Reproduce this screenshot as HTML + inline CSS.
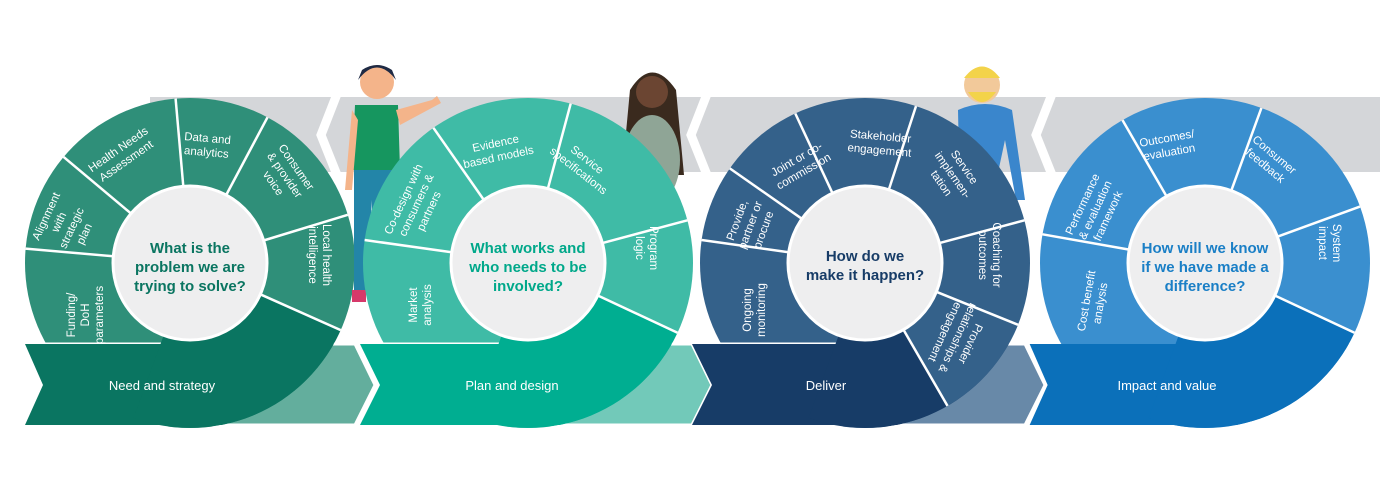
<!DOCTYPE html>
<html><head><meta charset="utf-8"><style>
body{margin:0;background:#fff;width:1400px;height:495px;overflow:hidden}
svg{display:block}
text{font-family:"Liberation Sans",sans-serif}
.s{fill:#fff;font-size:11.5px;text-anchor:middle}
.b{fill:#fff;font-size:13px;text-anchor:middle}
.c{font-size:15px;font-weight:bold;text-anchor:middle}
.l{stroke:#fff;stroke-width:2.5;fill:none}
</style></head><body>
<svg width="1400" height="495" viewBox="0 0 1400 495">
<defs>
<clipPath id="k1"><circle cx="190" cy="263" r="165"/><rect x="0" y="0" width="190" height="495"/></clipPath>
<clipPath id="k2"><circle cx="528" cy="263" r="165"/><rect x="340" y="0" width="188" height="495"/></clipPath>
<clipPath id="k3"><circle cx="865" cy="263" r="165"/><rect x="680" y="0" width="185" height="495"/></clipPath>
<clipPath id="k4"><circle cx="1205" cy="263" r="165"/><rect x="1020" y="0" width="185" height="495"/></clipPath>
</defs>
<!-- gray band -->
<rect x="150" y="97" width="1230" height="75" fill="#d4d6d9"/>
<polyline points="337,94 321,135 337,175" stroke="#fff" stroke-width="9" fill="none"/>
<polyline points="707,94 691,135 707,175" stroke="#fff" stroke-width="9" fill="none"/>
<polyline points="1052,94 1036,135 1052,175" stroke="#fff" stroke-width="9" fill="none"/>

<!-- woman 2 -->
<path d="M630 90 Q652 55 676 90 L684 175 L622 175 Z" fill="#3a2a1e"/>
<ellipse cx="652" cy="160" rx="28" ry="45" fill="#8fa596"/>
<circle cx="652" cy="92" r="16" fill="#6b4532"/>
<!-- man -->
<circle cx="982" cy="85" r="18" fill="#f2c99a"/>
<path d="M964 78 Q982 55 1000 78 Z" fill="#f3d34a"/>
<path d="M968 92 Q982 112 996 92 Z" fill="#f3d34a"/>
<path d="M958 110 Q985 98 1012 110 L1025 200 L1016 200 L1005 140 L990 210 L960 210 Z" fill="#3a86cc"/>

<!-- unit 1 -->
<circle cx="190" cy="263" r="165" fill="#2f8f79"/>
<polygon points="25,344 355,344 375,385 355,425 25,425 43,385" fill="#63ae9d" stroke="#fff" stroke-width="3"/>
<g clip-path="url(#k1)" fill="#0a7561">
<polygon points="25,344 355,344 375,385 355,425 25,425 43,385"/>
<path d="M190 263 L340.7 330.1 A165 165 0 0 1 133.6 418 Z"/>
</g>
<g transform="translate(190,263)">
<line class="l" x1="70.3" y1="31.3" x2="150.7" y2="67.1"/>
<line class="l" x1="73.6" y1="-22.5" x2="157.8" y2="-48.2"/>
<line class="l" x1="36.2" y1="-68" x2="77.5" y2="-145.7"/>
<line class="l" x1="-6.7" y1="-76.7" x2="-14.4" y2="-164.4"/>
<line class="l" x1="-59" y1="-49.5" x2="-126.4" y2="-106.1"/>
<line class="l" x1="-76.7" y1="-6.7" x2="-164.4" y2="-14.4"/>
<circle r="77" fill="#eeeeef" stroke="#fff" stroke-width="3"/>
<text class="c" fill="#0a7561" y="-10">What is the</text>
<text class="c" fill="#0a7561" y="9">problem we are</text>
<text class="c" fill="#0a7561" y="28">trying to solve?</text>
<text class="s" transform="translate(-68,-108) rotate(-35)"><tspan x="0" y="-3">Health Needs</tspan><tspan x="0" y="11">Assessment</tspan></text>
<text class="s" transform="translate(17,-118) rotate(5)"><tspan x="0" y="-3">Data and</tspan><tspan x="0" y="11">analytics</tspan></text>
<text class="s" transform="translate(95,-88) rotate(55)"><tspan x="0" y="-10">Consumer</tspan><tspan x="0" y="4">&amp; provider</tspan><tspan x="0" y="18">voice</tspan></text>
<text class="s" transform="translate(130,-8) rotate(90)"><tspan x="0" y="-3">Local health</tspan><tspan x="0" y="11">intelligence</tspan></text>
<text class="s" transform="translate(-125,-38) rotate(-65)"><tspan x="0" y="-17">Alignment</tspan><tspan x="0" y="-3">with</tspan><tspan x="0" y="11">strategic</tspan><tspan x="0" y="25">plan</tspan></text>
<text class="s" transform="translate(-105,52) rotate(-90)"><tspan x="0" y="-10">Funding/</tspan><tspan x="0" y="4">DoH</tspan><tspan x="0" y="18">parameters</tspan></text>
</g>
<text class="b" x="162" y="390">Need and strategy</text>

<!-- woman 1 -->
<circle cx="377" cy="82" r="17" fill="#f4b48a"/>
<path d="M358 80 Q377 55 396 80 L392 70 Q377 60 362 70 Z" fill="#1f2a44"/>
<path d="M355 105 L398 105 L400 170 L352 170 Z" fill="#16965f"/>
<path d="M396 110 L432 100 L437 96 L441 103 L400 125 Z" fill="#f4b48a"/>
<path d="M352 110 L345 190 L352 190 L358 120 Z" fill="#f4b48a"/>
<path d="M354 170 L392 170 L385 295 L372 295 L372 200 L366 295 L354 295 Z" fill="#2385a8"/>
<rect x="352" y="290" width="14" height="12" fill="#d6396a"/>

<!-- unit 2 -->
<circle cx="528" cy="263" r="165" fill="#3fbba6"/>
<polygon points="360,344 692,344 712,385 692,425 360,425 380,385" fill="#72c9b9" stroke="#fff" stroke-width="3"/>
<g clip-path="url(#k2)" fill="#00ae91">
<polygon points="360,344 692,344 712,385 692,425 360,425 380,385"/>
<path d="M528 263 L677.5 332.7 A165 165 0 0 1 471.6 418 Z"/>
</g>
<g transform="translate(528,263)">
<line class="l" x1="69.8" y1="32.5" x2="149.5" y2="69.7"/>
<line class="l" x1="74.4" y1="-19.9" x2="159.4" y2="-42.7"/>
<line class="l" x1="19.9" y1="-74.4" x2="42.7" y2="-159.4"/>
<line class="l" x1="-44.2" y1="-63.1" x2="-94.6" y2="-135.2"/>
<line class="l" x1="-76.3" y1="-10.7" x2="-163.4" y2="-23"/>
<circle r="77" fill="#eeeeef" stroke="#fff" stroke-width="3"/>
<text class="c" fill="#00a88a" y="-10">What works and</text>
<text class="c" fill="#00a88a" y="9">who needs to be</text>
<text class="c" fill="#00a88a" y="28">involved?</text>
<text class="s" transform="translate(-31,-113) rotate(-12)"><tspan x="0" y="-3">Evidence</tspan><tspan x="0" y="11">based models</tspan></text>
<text class="s" transform="translate(55,-98) rotate(38)"><tspan x="0" y="-3">Service</tspan><tspan x="0" y="11">specifications</tspan></text>
<text class="s" transform="translate(119,-15) rotate(90)"><tspan x="0" y="-3">Program</tspan><tspan x="0" y="11">logic</tspan></text>
<text class="s" transform="translate(-112,-58) rotate(-65)"><tspan x="0" y="-10">Co-design with</tspan><tspan x="0" y="4">consumers &amp;</tspan><tspan x="0" y="18">partners</tspan></text>
<text class="s" transform="translate(-108,42) rotate(-90)"><tspan x="0" y="-3">Market</tspan><tspan x="0" y="11">analysis</tspan></text>
</g>
<text class="b" x="512" y="390">Plan and design</text>

<!-- unit 3 -->
<circle cx="865" cy="263" r="165" fill="#34618a"/>
<polygon points="692,344 1025,344 1045,385 1025,425 692,425 712,385" fill="#6889a8" stroke="#fff" stroke-width="3"/>
<g clip-path="url(#k3)" fill="#173c67">
<polygon points="692,344 1025,344 1045,385 1025,425 692,425 712,385"/>
<path d="M865 263 L947.5 405.9 A165 165 0 0 1 808.6 418 Z"/>
</g>
<path d="M865 263 L1018 324.8 A165 165 0 0 1 947.5 405.9 Z" fill="#34618a"/>
<g transform="translate(865,263)">
<line class="l" x1="71.4" y1="28.8" x2="153" y2="61.8"/>
<line class="l" x1="38.5" y1="66.7" x2="82.5" y2="142.9"/>
<line class="l" x1="74.4" y1="-19.9" x2="159.4" y2="-42.7"/>
<line class="l" x1="23.8" y1="-73.2" x2="51" y2="-156.9"/>
<line class="l" x1="-32.5" y1="-69.8" x2="-69.7" y2="-149.5"/>
<line class="l" x1="-63.1" y1="-44.2" x2="-135.2" y2="-94.6"/>
<line class="l" x1="-76.3" y1="-10.7" x2="-163.4" y2="-23"/>
<circle r="77" fill="#eeeeef" stroke="#fff" stroke-width="3"/>
<text class="c" fill="#173c67" y="-2">How do we</text>
<text class="c" fill="#173c67" y="17">make it happen?</text>
<text class="s" transform="translate(-65,-98) rotate(-30)"><tspan x="0" y="-3">Joint or co-</tspan><tspan x="0" y="11">commission</tspan></text>
<text class="s" transform="translate(15,-120) rotate(5)"><tspan x="0" y="-3">Stakeholder</tspan><tspan x="0" y="11">engagement</tspan></text>
<text class="s" transform="translate(88,-88) rotate(55)"><tspan x="0" y="-10">Service</tspan><tspan x="0" y="4">implemen-</tspan><tspan x="0" y="18">tation</tspan></text>
<text class="s" transform="translate(125,-8) rotate(90)"><tspan x="0" y="-3">Coaching for</tspan><tspan x="0" y="11">outcomes</tspan></text>
<text class="s" transform="translate(93,75) rotate(115)"><tspan x="0" y="-10">Provider</tspan><tspan x="0" y="4">relationships &amp;</tspan><tspan x="0" y="18">engagement</tspan></text>
<text class="s" transform="translate(-115,-38) rotate(-70)"><tspan x="0" y="-10">Provide,</tspan><tspan x="0" y="4">partner or</tspan><tspan x="0" y="18">procure</tspan></text>
<text class="s" transform="translate(-111,47) rotate(-90)"><tspan x="0" y="-3">Ongoing</tspan><tspan x="0" y="11">monitoring</tspan></text>
</g>
<text class="b" x="826" y="390">Deliver</text>

<!-- unit 4 -->
<circle cx="1205" cy="263" r="165" fill="#3a8fcf"/>
<g clip-path="url(#k4)" fill="#0b70ba">
<polygon points="1028,344 1380,344 1380,425 1028,425 1046,385"/>
<path d="M1205 263 L1354.5 332.7 A165 165 0 0 1 1148.6 418 Z"/>
</g>
<polyline points="1028,344 1046,385 1028,425" stroke="#fff" stroke-width="3" fill="none"/>
<g transform="translate(1205,263)">
<line class="l" x1="69.8" y1="32.5" x2="149.5" y2="69.7"/>
<line class="l" x1="72.4" y1="-26.3" x2="155" y2="-56.4"/>
<line class="l" x1="26.3" y1="-72.4" x2="56.4" y2="-155"/>
<line class="l" x1="-38.5" y1="-66.7" x2="-82.5" y2="-142.9"/>
<line class="l" x1="-75.8" y1="-13.4" x2="-162.5" y2="-28.7"/>
<circle r="77" fill="#eeeeef" stroke="#fff" stroke-width="3"/>
<text class="c" fill="#1a7fc6" y="-10">How will we know</text>
<text class="c" fill="#1a7fc6" y="9">if we have made a</text>
<text class="c" fill="#1a7fc6" y="28">difference?</text>
<text class="s" transform="translate(-37,-118) rotate(-10)"><tspan x="0" y="-3">Outcomes/</tspan><tspan x="0" y="11">evaluation</tspan></text>
<text class="s" transform="translate(65,-103) rotate(40)"><tspan x="0" y="-3">Consumer</tspan><tspan x="0" y="11">feedback</tspan></text>
<text class="s" transform="translate(125,-20) rotate(90)"><tspan x="0" y="-3">System</tspan><tspan x="0" y="11">impact</tspan></text>
<text class="s" transform="translate(-110,-53) rotate(-65)"><tspan x="0" y="-10">Performance</tspan><tspan x="0" y="4">&amp; evaluation</tspan><tspan x="0" y="18">framework</tspan></text>
<text class="s" transform="translate(-112,39) rotate(-80)"><tspan x="0" y="-3">Cost benefit</tspan><tspan x="0" y="11">analysis</tspan></text>
</g>
<text class="b" x="1167" y="390">Impact and value</text>
</svg>
</body></html>
